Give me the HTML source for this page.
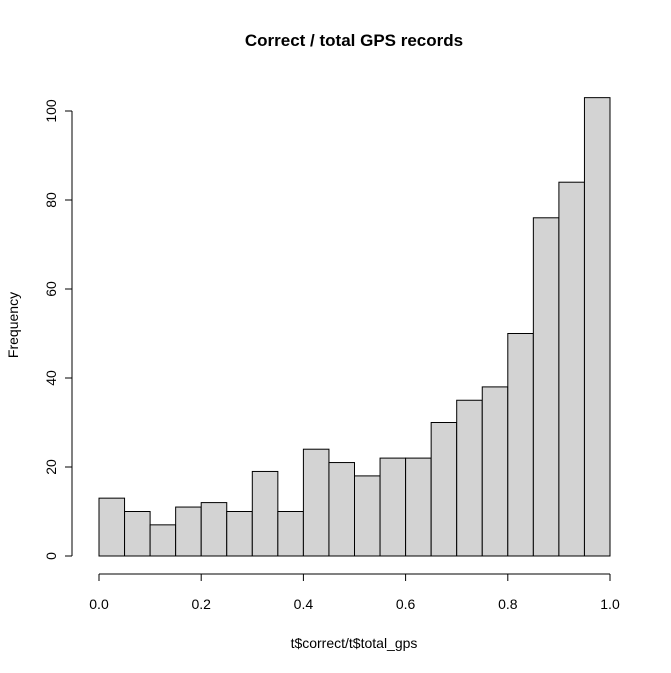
<!DOCTYPE html>
<html><head><meta charset="utf-8"><style>
body{margin:0;background:#fff}
svg{display:block;font-family:"Liberation Sans",sans-serif}
</style></head><body>
<svg id="c" width="671" height="673">
<text x="354" y="46" text-anchor="middle" font-size="17" font-weight="bold">Correct / total GPS records</text>
<text x="354" y="648" text-anchor="middle" font-size="14">t$correct/t$total_gps</text>
<text transform="translate(18,325) rotate(-90)" text-anchor="middle" font-size="14">Frequency</text>
<g id="bars"></g><g id="axes"></g>
</svg>
<script>
const counts=[13,10,7,11,12,10,19,10,24,21,18,22,22,30,35,38,50,76,84,103];
const binStart=0, binWidth=0.05;
const xTicks=[0,0.2,0.4,0.6,0.8,1.0];
const xTickLabels=["0.0","0.2","0.4","0.6","0.8","1.0"];
const yTicks=[0,20,40,60,80,100];
const ns="http://www.w3.org/2000/svg";
const X=v=>99+v*511, Y=v=>556-v*4.45;
function mk(t,a,p){const e=document.createElementNS(ns,t);for(const k in a)e.setAttribute(k,a[k]);p.appendChild(e);return e;}
const bars=document.getElementById('bars'), axes=document.getElementById('axes');
counts.forEach((c,i)=>{
 const x0=X(binStart+i*binWidth), x1=X(binStart+(i+1)*binWidth);
 const r=mk('rect',{x:x0,y:Y(c),width:x1-x0,height:Y(0)-Y(c),fill:'#d3d3d3',stroke:'#000','stroke-width':1},bars);
 
 
});
const xa=mk('line',{x1:X(xTicks[0]),x2:X(xTicks[xTicks.length-1]),y1:574,y2:574,stroke:'#000'},axes);


xTicks.forEach((t,i)=>{
 mk('line',{x1:X(t),x2:X(t),y1:574,y2:581,stroke:'#000'},axes);
 const tx=mk('text',{x:X(t),y:609,'text-anchor':'middle','font-size':14},axes);
 tx.textContent=xTickLabels[i];
 
 
});
const ya=mk('line',{x1:72,x2:72,y1:Y(yTicks[0]),y2:Y(yTicks[yTicks.length-1]),stroke:'#000'},axes);


yTicks.forEach(t=>{
 mk('line',{x1:65,x2:72,y1:Y(t),y2:Y(t),stroke:'#000'},axes);
 const tx=mk('text',{transform:`translate(56,${Y(t)}) rotate(-90)`,'text-anchor':'middle','font-size':14},axes);
 tx.textContent=String(t);
 
 
});
</script>
</body></html>
